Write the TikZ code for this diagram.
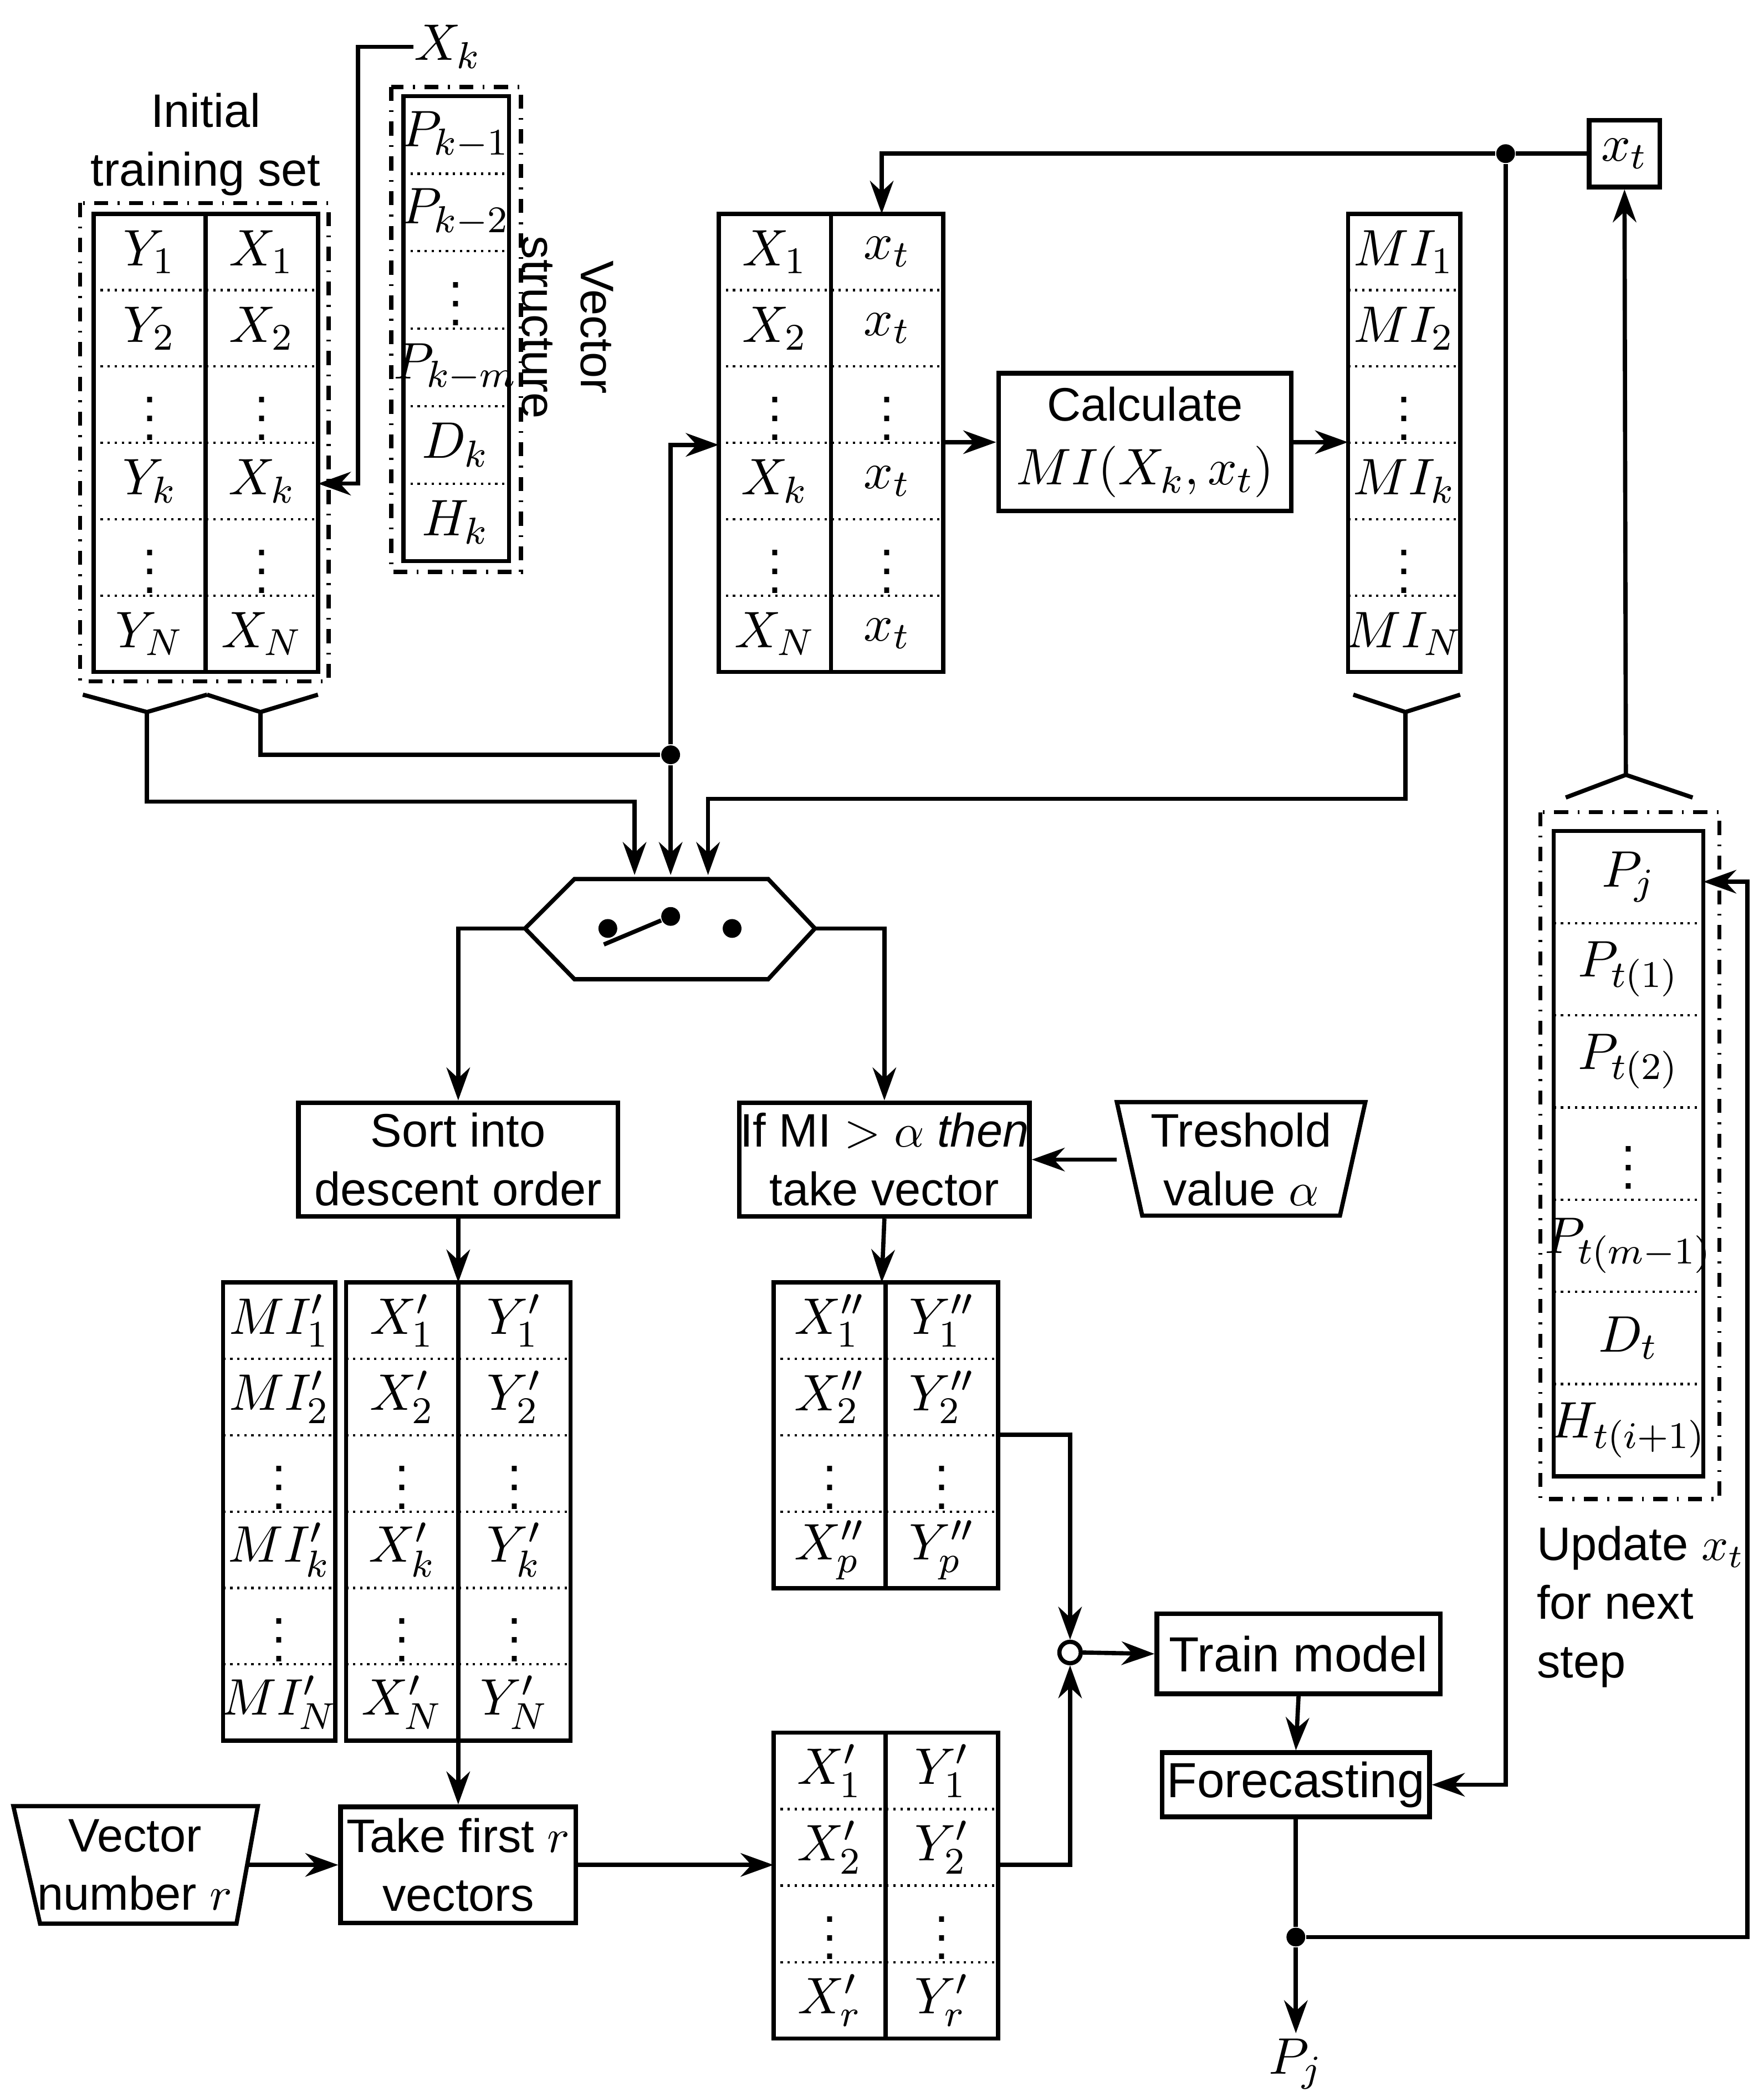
\documentclass[tikz,border=0pt]{standalone}
\usepackage{fontspec}
\setmainfont{Liberation Sans}
\usetikzlibrary{arrows.meta}
\tikzset{
 tab/.style={line width=0.9pt},
 dl/.style={densely dotted,line width=0.5pt},
 dd/.style={dash dot,line width=0.9pt},
 ln/.style={line width=0.9pt},
 ar/.style={line width=0.9pt,-{Stealth[length=7pt,width=5pt]}},
 m/.style={font=\fontsize{11}{13}\selectfont,inner sep=0pt},
 dot/.style={circle,fill,inner sep=0pt,minimum size=4pt},
 txt/.style={font=\fontsize{10}{12.5}\selectfont,align=center},
 bx/.style={draw,line width=1pt,txt,inner sep=0pt}
}
% name prefix, x0, xs, x1, y0, h, n
\newcommand\mytab[7]{%
 \draw[tab] (#2,#5) rectangle (#4,#5+#6*#7);
 \draw[tab] (#3,#5) -- (#3,#5+#6*#7);
 \pgfmathtruncatemacro\nn{#7-1}%
 \foreach \i in {1,...,\nn}{\draw[dl] (#2,#5+#6*\i) -- (#4,#5+#6*\i);}%
}
\newcommand\col[5]{% prefix, xc, y0, h, list
 \foreach \t [count=\i] in {#5}{\node[m] (#1\i) at (#2,#3+#4*\i-#4/2) {$\t$};}}
\begin{document}
\begin{tikzpicture}[x=0.01cm,y=-0.01cm]
\useasboundingbox (0,0) rectangle (1320,1566);
% initial training set
\node[txt] (its) at (154,108) {Initial\\training set};
\draw[dd] (60,152) rectangle (246,510);
\mytab{it}{70}{154}{238}{160}{57.17}{6}
\col{iy}{112}{160}{57.17}{Y_1,Y_2,\vdots,Y_k,\vdots,Y_N}
\col{ix}{196}{160}{57.17}{X_1,X_2,\vdots,X_k,\vdots,X_N}
\node[m] (xk) at (335,35) {$X_k$};
\coordinate (ikx) at (238,362);
\draw[ar] (xk.west) -| (268,362) -- (ikx);
% vector structure
\draw[dd] (293,65) rectangle (390,428);
\draw[tab] (302,72) rectangle (381,420);
\foreach \i in {1,...,5}{\draw[dl] (302,72+58*\i) -- (381,72+58*\i);}
\col{vs}{341}{72}{58}{P_{k-1},P_{k-2},\vdots,P_{k-m},D_k,H_k}
\node[txt,rotate=-90] (vst) at (425,245) {Vector\\structure};
% middle table
\mytab{mt}{538}{622}{706}{160}{57.17}{6}
\col{mx}{580}{160}{57.17}{X_1,X_2,\vdots,X_k,\vdots,X_N}
\col{mxt}{664}{160}{57.17}{x_t,x_t,\vdots,x_t,\vdots,x_t}
\node[bx,minimum width=2.19cm,minimum height=1.03cm] (calc) at (857,331) {Calculate\\[1pt]\fontsize{11}{13}\selectfont$MI(X_k,x_t)$};
\mytab{mi}{1009}{1009}{1093}{160}{57.17}{6}
\col{mi}{1051}{160}{57.17}{MI_1,MI_2,\vdots,MI_k,\vdots,MI_N}
\draw[ar] (706,331) -- (calc.west);
\draw[ar] (calc.east) -- (1009,331);
% x_t
\node[draw,line width=1pt,m,minimum width=0.53cm,minimum height=0.5cm] (xt) at (1216,115) {$x_t$};
\node[dot] (d1) at (1127,115) {};
\draw[ar] (xt.west) -- (d1) -| (660,160);
% brackets
\draw[ln] (62,520) -- (110,533) -- (155,520) (155,520) -- (195,533) -- (238,520);
\draw[ln] (1013,520) -- (1052,533) -- (1093,520);
\node[dot] (d2) at (502,565) {};
\draw[ar] (110,533) |- (475,600) -- (475,655);
\draw[ln] (195,533) |- (d2);
\draw[ar] (d2) |- (538,333);
\draw[ar] (d2) -- (502,655);
\draw[ar] (1052,533) |- (530,598) -- (530,655);
% switch
\draw[ln] (393,695) -- (430,658) -- (575,658) -- (610,695) -- (575,733) -- (430,733) -- cycle;
\coordinate (hexl) at (393,695); \coordinate (hexr) at (610,695);
\node[dot] (s1) at (455,695) {}; \node[dot] (s2) at (502,686) {}; \node[dot] (s3) at (548,695) {};
\draw[ln] (452,707) -- (s2);
% sort / if
\node[bx,minimum width=2.39cm,minimum height=0.85cm] (sort) at (343,868) {Sort into\\descent order};
\node[bx,minimum width=2.17cm,minimum height=0.85cm] (if) at (662,868) {If MI $>$ $\alpha$ \textit{then}\\take vector};
\draw[ln] (836,825) -- (1022,825) -- (1003,910) -- (855,910) -- cycle;
\node[txt] (thr) at (929,868) {Treshold\\value $\alpha$};
\coordinate (thrl) at (836,868);
\draw[ar] (thrl) -- (if.east);
\draw[ar] (hexl) -| (sort.north);
\draw[ar] (hexr) -| (if.north);
\draw[ar] (if.south) -- (660,960);
\draw[ar] (sort.south) -- (343,960);
% sorted tables
\mytab{ms}{167}{167}{251}{960}{57.17}{6}
\col{ms}{209}{960}{57.17}{MI'_1,MI'_2,\vdots,MI'_k,\vdots,MI'_N}
\mytab{xs}{259}{343}{427}{960}{57.17}{6}
\col{xs}{301}{960}{57.17}{X'_1,X'_2,\vdots,X'_k,\vdots,X'_N}
\col{ys}{385}{960}{57.17}{Y'_1,Y'_2,\vdots,Y'_k,\vdots,Y'_N}
\mytab{xp}{579}{663}{747}{960}{57.25}{4}
\col{xp}{621}{960}{57.25}{X''_1,X''_2,\vdots,X''_p}
\col{yp}{705}{960}{57.25}{Y''_1,Y''_2,\vdots,Y''_p}
% take first
\node[bx,minimum width=1.76cm,minimum height=0.87cm] (take) at (343,1396) {Take first $r$\\vectors};
\draw[ln] (10,1352) -- (193,1352) -- (177,1440) -- (30,1440) -- cycle;
\node[txt] (vn) at (101,1396) {Vector\\number $r$};
\coordinate (vnr) at (185,1396);
\draw[ar] (vnr) -- (take.west);
\draw[ar] (343,1303) -- (take.north);
\mytab{xr}{579}{663}{747}{1297}{57.25}{4}
\col{xr}{621}{1297}{57.25}{X'_1,X'_2,\vdots,X'_r}
\col{yr}{705}{1297}{57.25}{Y'_1,Y'_2,\vdots,Y'_r}
\draw[ar] (take.east) -- (579,1396);
% join
\node[draw,circle,line width=0.9pt,inner sep=0pt,minimum size=0.16cm] (j) at (801,1237) {};
\draw[ar] (747,1074) -| (j.north);
\draw[ar] (747,1396) -| (j.south);
\node[bx,minimum width=2.12cm,minimum height=0.6cm,font=\fontsize{10.5}{13}\selectfont] (train) at (972,1238) {Train model};
\draw[ar] (j.east) -- (train.west);
\node[bx,minimum width=2.0cm,minimum height=0.48cm,font=\fontsize{10.5}{13}\selectfont] (fc) at (970,1336) {Forecasting};
\draw[ar] (train.south) -- (fc.north);
\draw[ar] (d1) |- (fc.east);
\node[dot] (d3) at (970,1450) {};
\draw[ln] (fc.south) -- (d3);
\node[m] (pj) at (970,1545) {$P_j$};
\draw[ar] (d3) -- (970,1522);
% right table
\draw[dd] (1153,608) rectangle (1287,1122);
\draw[tab] (1163,622) rectangle (1275,1105);
\foreach \i in {1,...,6}{\draw[dl] (1163,622+69*\i) -- (1275,622+69*\i);}
\col{rt}{1219}{622}{69}{P_j,P_{t(1)},P_{t(2)},\vdots,P_{t(m-1)},D_t,H_{t(i+1)}}
\draw[ar] (d3) -| (1308,660) -- (1275,660);
\draw[ln] (1172,597) -- (1217,580) -- (1267,597);
\draw[ar] (1217,580) -- (xt.south);
\node[txt,align=left,anchor=north west] (upd) at (1138,1130) {Update $x_t$\\for next\\step};
\end{tikzpicture}
\end{document}
